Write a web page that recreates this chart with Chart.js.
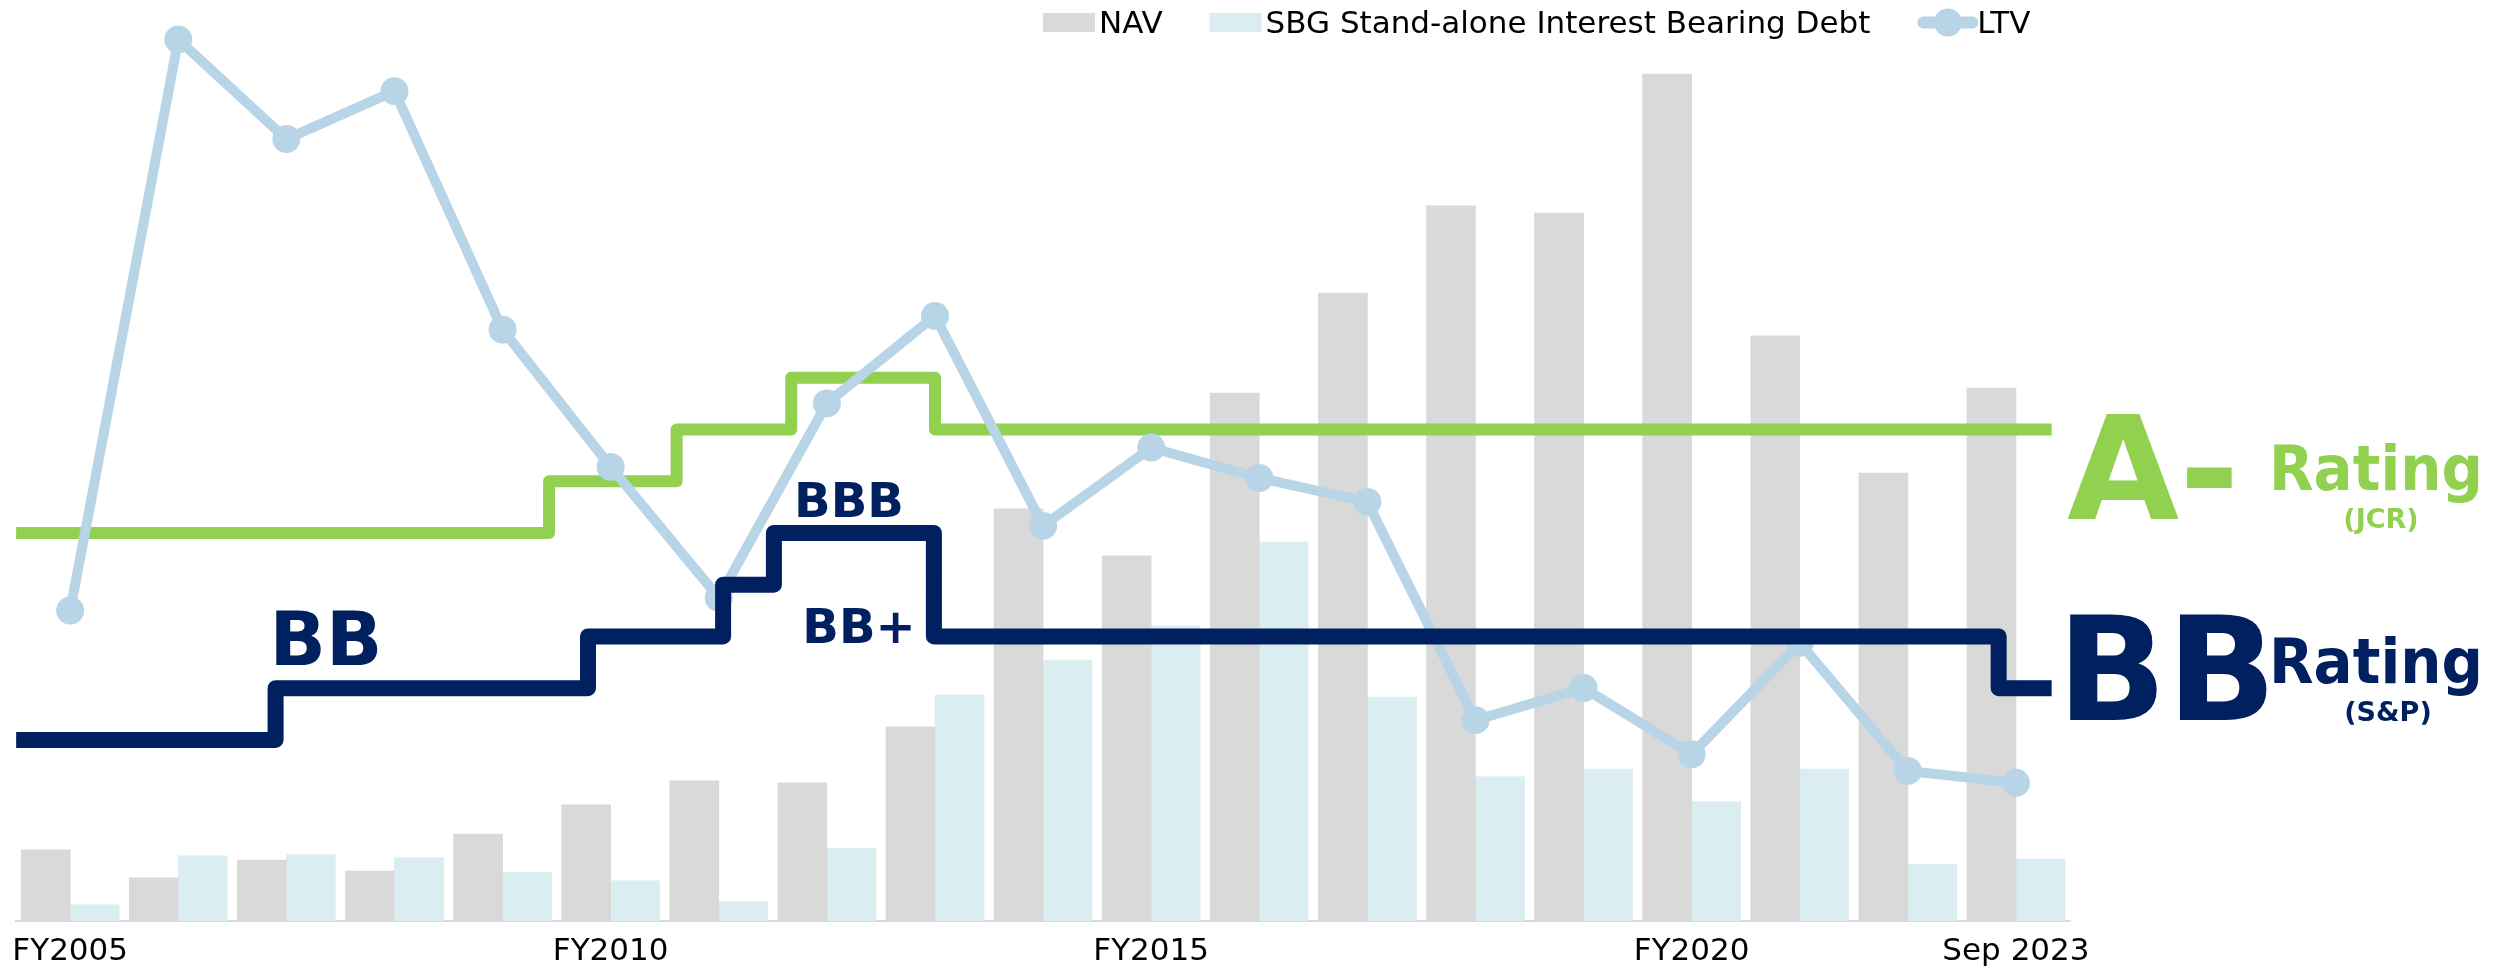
<!DOCTYPE html>
<html>
<head>
<meta charset="utf-8">
<title>NAV, Debt, LTV and Credit Ratings</title>
<script src="https://cdn.jsdelivr.net/npm/chart.js@4.4.1/dist/chart.umd.min.js"></script>
<style>
  html, body { margin: 0; padding: 0; background: #fff; }
  #wrap { width: 2494px; height: 969px; }
</style>
</head>
<body>
<div id="wrap"><canvas id="ltvChart" width="2494" height="969"></canvas></div>
<script>
// Fiscal years on the x axis (only some are labelled)
const categories = [
    'FY2005', 'FY2006', 'FY2007', 'FY2008', 'FY2009', 'FY2010', 'FY2011',
    'FY2012', 'FY2013', 'FY2014', 'FY2015', 'FY2016', 'FY2017', 'FY2018',
    'FY2019', 'FY2020', 'FY2021', 'FY2022', 'Sep 2023'
];
const shownTicks = ['FY2005', 'FY2010', 'FY2015', 'FY2020', 'Sep 2023'];

// NAV and stand-alone interest bearing debt (trillion yen)
const navValues = [
    2.16, 1.31, 1.85, 1.52, 2.64, 3.53, 4.26, 4.20, 5.90, 12.53,
    11.10, 16.05, 19.09, 21.74, 21.52, 25.75, 17.79, 13.62, 16.20
];
const debtValues = [
    0.49, 1.98, 2.01, 1.92, 1.49, 1.22, 0.58, 2.22, 6.87, 7.93,
    8.97, 11.52, 6.81, 4.38, 4.62, 3.62, 4.62, 1.73, 1.88
];

// Loan-to-value (%)
const ltvValues = [
    33.7, 95.7, 84.9, 90.1, 64.2, 49.3, 35.1, 56.2, 65.7, 42.9,
    51.4, 48.1, 45.5, 21.8, 25.3, 18.1, 30.2, 16.3, 15.0
];

// Rating notches, lowest first
const ratingNotches = ['BB-', 'BB', 'BB+', 'BBB-', 'BBB', 'BBB+', 'A-', 'A'];

// S&P: where each rating starts on the year axis (index units), last entry closes the line
const spChangeAt = [-0.5, 1.90, 4.79, 6.04, 6.51, 7.99, 17.84, 18.33];
const spRatings = ['BB-', 'BB', 'BB+', 'BBB-', 'BBB', 'BB+', 'BB', 'BB'];

// JCR
const jcrChangeAt = [-0.5, 4.43, 5.61, 6.67, 8.00, 18.33];
const jcrRatings = ['BBB', 'BBB+', 'A-', 'A', 'A-', 'A-'];

const NAVY = '#002060';
const GREEN = '#92d050';
const LTV_BLUE = '#b8d5e7';
const NAV_GRAY = '#d9d9d9';
const DEBT_CYAN = '#daedf0';
const FONT = 'DejaVu Sans';

function notch(rating) {
    return ratingNotches.indexOf(rating) + 1;
}

// Step points in the category axis' own units (fractional index), so parsing is turned off for these
function ratingSteps(changeAt, ratings) {
    return changeAt.map((x, i) => ({ x: x, y: notch(ratings[i]) }));
}

// Text laid over the plot: rating names along the S&P line and the current ratings on the right
const ratingLabels = [
    { text: 'BB', x: 326, y: 665, size: 74, color: NAVY, align: 'center' },
    { text: 'BBB', x: 849, y: 517, size: 48, color: NAVY, align: 'center' },
    { text: 'BB+', x: 859, y: 643, size: 48, color: NAVY, align: 'center' },
    { text: 'A-', x: 2067, y: 519, size: 145, color: GREEN, align: 'left' },
    { text: 'Rating', x: 2269, y: 490, size: 62, color: GREEN, align: 'left', maxWidth: 214 },
    { text: '(JCR)', x: 2381, y: 528, size: 27, color: GREEN, align: 'center' },
    { text: 'BB', x: 2057, y: 720, size: 144, color: NAVY, align: 'left' },
    { text: 'Rating', x: 2269, y: 683, size: 62, color: NAVY, align: 'left', maxWidth: 214 },
    { text: '(S&P)', x: 2388, y: 721, size: 27, color: NAVY, align: 'center' }
];

const annotationPlugin = {
    id: 'ratingText',
    afterDatasetsDraw(chart) {
        const ctx = chart.ctx;
        ctx.save();
        ctx.textBaseline = 'alphabetic';
        ratingLabels.forEach(l => {
            ctx.font = `bold ${l.size}px "${FONT}"`;
            ctx.fillStyle = l.color;
            ctx.textAlign = l.align;
            if (l.maxWidth) {
                ctx.fillText(l.text, l.x, l.y, l.maxWidth);
            } else {
                ctx.fillText(l.text, l.x, l.y);
            }
        });
        ctx.restore();
    }
};

// Legend across the top right: box swatches for the bars, line + dot for LTV
const legendPlugin = {
    id: 'topLegend',
    afterDraw(chart) {
        const ctx = chart.ctx;
        const ds = chart.data.datasets;
        const baseline = 33;
        const midY = 22.5;
        let x = 1043;
        ctx.save();
        ctx.font = `31px "${FONT}"`;
        ctx.textBaseline = 'alphabetic';
        ctx.textAlign = 'left';
        [ds[0], ds[1], ds[2]].forEach(d => {
            if (d.type === 'line') {
                ctx.strokeStyle = d.borderColor;
                ctx.lineWidth = 12;
                ctx.lineCap = 'round';
                ctx.beginPath();
                ctx.moveTo(x + 6, midY);
                ctx.lineTo(x + 55, midY);
                ctx.stroke();
                ctx.fillStyle = d.borderColor;
                ctx.beginPath();
                ctx.arc(x + 30.5, midY, 14, 0, Math.PI * 2);
                ctx.fill();
                x += 60;
            } else {
                ctx.fillStyle = d.backgroundColor;
                ctx.fillRect(x, 13, 52, 19);
                x += 56;
            }
            ctx.fillStyle = '#000';
            ctx.fillText(d.label, x, baseline);
            x += ctx.measureText(d.label).width + 47;
        });
        ctx.restore();
    }
};

const ctx = document.getElementById('ltvChart');

new Chart(ctx, {
    type: 'bar',
    data: {
        labels: categories,
        datasets: [
            {
                label: 'NAV',
                data: navValues,
                backgroundColor: NAV_GRAY,
                yAxisID: 'yNav',
                barThickness: 49,
                order: 3
            },
            {
                label: 'SBG Stand-alone Interest Bearing Debt',
                data: debtValues,
                backgroundColor: DEBT_CYAN,
                yAxisID: 'yNav',
                barThickness: 49,
                order: 3
            },
            {
                type: 'line',
                label: 'LTV',
                data: ltvValues,
                borderColor: LTV_BLUE,
                backgroundColor: LTV_BLUE,
                borderWidth: 10,
                pointRadius: 14,
                pointBorderWidth: 0,
                pointBackgroundColor: LTV_BLUE,
                tension: 0,
                clip: false,
                yAxisID: 'yLtv',
                order: 1
            },
            {
                type: 'line',
                label: 'JCR',
                data: ratingSteps(jcrChangeAt, jcrRatings),
                parsing: false,
                borderColor: GREEN,
                borderWidth: 12,
                borderJoinStyle: 'round',
                stepped: 'before',
                pointRadius: 0,
                clip: false,
                yAxisID: 'yRating',
                order: 2
            },
            {
                type: 'line',
                label: 'S&P',
                data: ratingSteps(spChangeAt, spRatings),
                parsing: false,
                borderColor: NAVY,
                borderWidth: 16,
                borderJoinStyle: 'round',
                stepped: 'before',
                pointRadius: 0,
                clip: false,
                yAxisID: 'yRating',
                order: 0
            }
        ]
    },
    options: {
        responsive: false,
        animation: false,
        events: [],
        layout: {
            autoPadding: false,
            padding: { left: 14, right: 424, top: 0, bottom: 0 }
        },
        scales: {
            x: {
                type: 'category',
                offset: true,
                grid: { display: false, drawTicks: false },
                border: { display: true, color: '#d9d9d9', width: 2 },
                ticks: {
                    autoSkip: false,
                    maxRotation: 0,
                    minRotation: 0,
                    padding: 12,
                    color: '#000',
                    font: { family: FONT, size: 31 },
                    callback: function(value, index) {
                        const label = categories[index];
                        return shownTicks.includes(label) ? label : '';
                    }
                },
                afterFit: function(scale) {
                    scale.height = 48;
                }
            },
            yNav: {
                type: 'linear',
                display: false,
                min: 0,
                max: 28
            },
            yLtv: {
                type: 'linear',
                display: false,
                min: 0,
                max: 100
            },
            yRating: {
                type: 'linear',
                display: false,
                min: -2.5,
                max: 15.3
            }
        },
        plugins: {
            legend: { display: false },
            tooltip: { enabled: false },
            title: { display: false }
        }
    },
    plugins: [annotationPlugin, legendPlugin]
});
</script>
</body>
</html>
